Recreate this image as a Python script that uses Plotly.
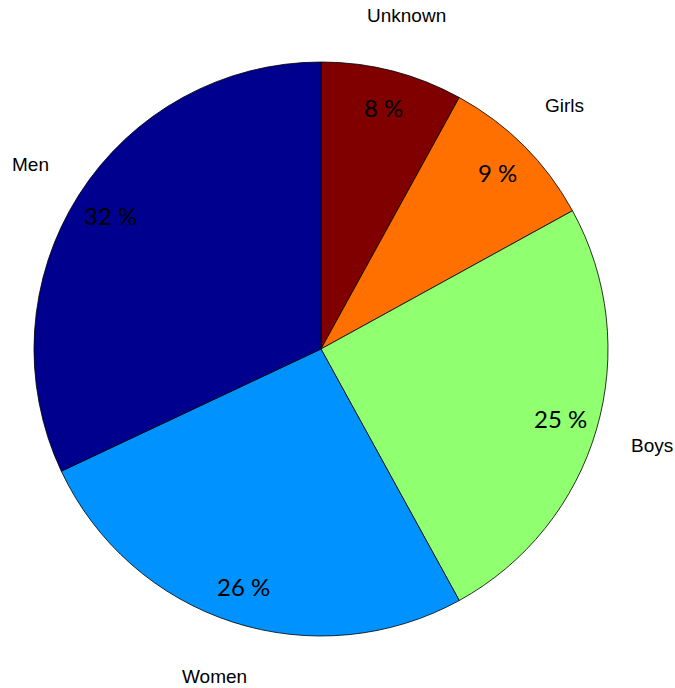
import math
import plotly.graph_objects as go

# Share of cases by group, listed clockwise from 12 o'clock
labels = ["Unknown", "Girls", "Boys", "Women", "Men"]
shares = [8, 9, 25, 26, 32]
colors = ["#800000", "#ff7000", "#90ff70", "#0092ff", "#00008f"]

W, H = 675, 688
margin = dict(l=34, r=67, t=62, b=52)

fig = go.Figure(
    go.Pie(
        labels=labels,
        values=shares,
        sort=False,
        direction="clockwise",
        rotation=0,
        textinfo="none",
        hoverinfo="label+percent",
        marker=dict(colors=colors, line=dict(color="black", width=0.8)),
        showlegend=False,
    )
)

# Place slice labels and percentages along each slice's mid-angle
total = sum(shares)
label_dist = 1.2   # in pie radii
pct_dist = 0.87
annotations = []
cum = 0.0
for name, v in zip(labels, shares):
    mid = (cum + v / 2) / total * 2 * math.pi
    cum += v
    sx, sy = math.sin(mid), math.cos(mid)
    annotations.append(dict(
        x=0.5 + label_dist * sx / 2, y=0.5 + label_dist * sy / 2,
        xref="paper", yref="paper", text=name, showarrow=False,
        xanchor="center", yanchor="middle",
        font=dict(family="Liberation Sans, Arial, sans-serif", size=19, color="black"),
    ))
    annotations.append(dict(
        x=0.5 + pct_dist * sx / 2, y=0.5 + pct_dist * sy / 2,
        xref="paper", yref="paper", text=f"{round(100 * v / total)} %", showarrow=False,
        xanchor="center", yanchor="middle",
        font=dict(family="Lato, Noto Sans, sans-serif", size=24, color="black"),
    ))

fig.update_layout(
    width=W, height=H,
    margin=margin,
    paper_bgcolor="white",
    plot_bgcolor="white",
    annotations=annotations,
)

fig.write_html("out.html")
